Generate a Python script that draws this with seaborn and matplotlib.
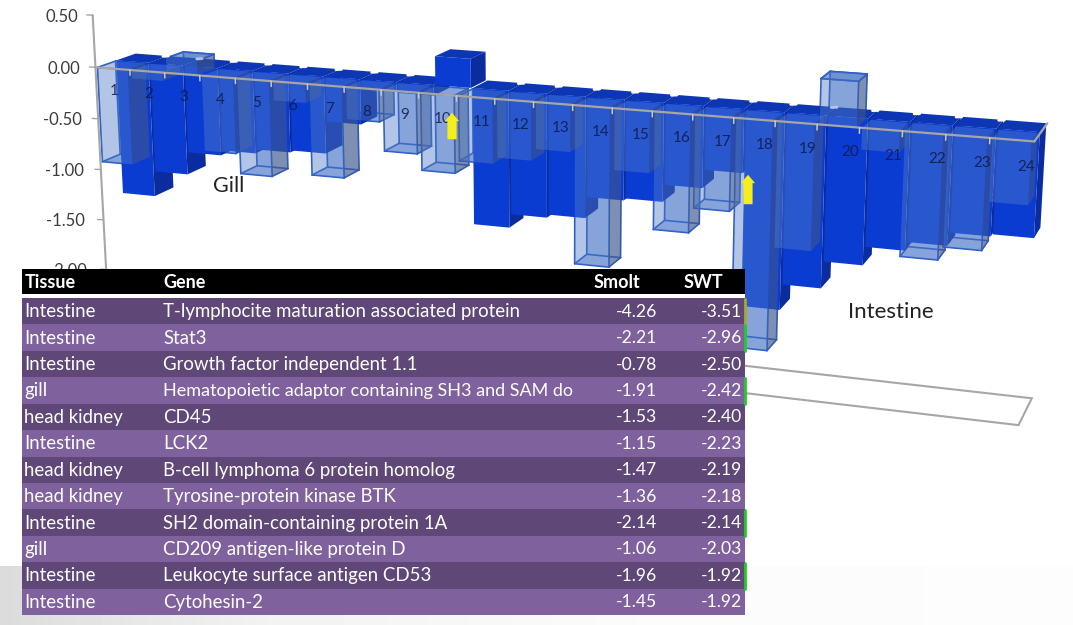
"""
Pseudo-3D bar chart (gill / intestine) with the gene table laid over it
"""

import numpy as np
import matplotlib
matplotlib.use('Agg')
import matplotlib.pyplot as plt
from matplotlib.colors import ListedColormap, to_rgba
from matplotlib.patches import Polygon, Rectangle
from matplotlib.transforms import Transform
import seaborn as sns

WIDTH, HEIGHT = 1073, 625

categories = list(range(1, 25))
front_values = [-0.92, -0.08, 0.14, -0.72, -0.91, -0.18, -0.86, -0.30, -0.57, -0.72, -0.60, -0.54,
                -0.43, -1.46, -0.56, -1.07, -0.84, -2.08, -1.13, 0.40, -0.19, -1.10, -0.98, -0.55]
rear_values = [-1.32, -1.07, -0.85, -0.80, -0.76, -0.74, -0.43, -0.08, -0.10, 0.27, -1.29, -1.16,
               -1.13, -0.93, -0.91, -0.75, -0.58, -1.81, -1.57, -1.32, -1.15, -1.07, -0.95, -0.93]
y_ticks = [0.5, 0.0, -0.5, -1.0, -1.5, -2.0]

tissues = ['Intestine', 'Intestine', 'Intestine', 'gill', 'head kidney', 'Intestine',
           'head kidney', 'head kidney', 'Intestine', 'gill', 'Intestine', 'Intestine']
genes = ['T-lymphocite maturation associated protein', 'Stat3', 'Growth factor independent 1.1',
         'Hematopoietic adaptor containing SH3 and SAM do', 'CD45', 'LCK2',
         'B-cell lymphoma 6 protein homolog', 'Tyrosine-protein kinase BTK',
         'SH2 domain-containing protein 1A', 'CD209 antigen-like protein D',
         'Leukocyte surface antigen CD53', 'Cytohesin-2']
smolt = ['-4.26', '-2.21', '-0.78', '-1.91', '-1.53', '-1.15', '-1.47', '-1.36', '-2.14', '-1.06', '-1.96', '-1.45']
swt = ['-3.51', '-2.96', '-2.50', '-2.42', '-2.40', '-2.23', '-2.19', '-2.18', '-2.14', '-2.03', '-1.92', '-1.92']
edge_marks = ['#a8a82a', '#22cc22', None, '#22cc22', None, None, None, None, '#22cc22', None, '#22cc22', None]

# camera: chart coordinates (category, value, depth) seen at these pixels
world_anchors = np.array([(0, 0, 0), (6, 0, 0), (12, 0, 0), (18, 0, 0), (24, 0, 0), (24, 0, 1), (24, -2.5, 0),
                          (24, -2.5, 1), (0, 0.5, 0), (0, -2, 0), (0, -2.5, 0), (0, 0, 1)], dtype=float)
pixel_anchors = np.array([(97, 68), (301, 84), (540, 102), (777, 121), (1032, 140), (1047, 122), (1018, 427),
                          (1032, 399), (92, 16), (106, 270), (109, 316), (135, 54)], dtype=float)


def fit_camera(world, pixels):
    """Direct linear transform, least squares through the anchors"""
    rows = []
    for (x, y, z), (u, v) in zip(world, pixels / 1000):
        rows.append([x, y, z, 1, 0, 0, 0, 0, -u * x, -u * y, -u * z, -u])
        rows.append([0, 0, 0, 0, x, y, z, 1, -v * x, -v * y, -v * z, -v])
    return np.linalg.svd(np.array(rows))[2][-1].reshape(3, 4)


CAMERA = fit_camera(world_anchors, pixel_anchors)


def project(x, v, d):
    pts = np.stack([np.asarray(x, float), np.asarray(v, float), np.asarray(d, float), np.ones_like(np.asarray(x, float))], axis=-1)
    out = pts @ CAMERA.T
    return out[..., :2] / out[..., 2:] * 1000


class DepthProjection(Transform):
    """Maps (category, value) at a fixed depth to pixels"""
    input_dims = output_dims = 2

    def __init__(self, plane):
        super().__init__()
        self.plane = plane

    def transform_non_affine(self, values):
        values = np.asarray(values, float)
        return project(values[:, 0], values[:, 1], np.full(len(values), self.plane))


sns.set_theme(style='white')
plt.rcParams['font.family'] = ['Lato', 'DejaVu Sans']

fig = plt.figure(figsize=(WIDTH / 100, HEIGHT / 100), dpi=100)
ax = fig.add_axes([0, 0, 1, 1])
ax.set_axis_off()

GRAY = '#a6a6a6'
CENTERS = np.array(categories) - 0.5
FRONT_D = (0.0, 0.45)
REAR_D = (0.5, 1.0)
SOLID, SOLID_SIDE, SOLID_TOP = '#0a3cd2', '#0a2c9e', '#0d36b4'
GLASS, GLASS_EDGE = to_rgba('#507bca', 0.44), '#2a5cc4'
GLASS_SIDE = to_rgba('#4a5a80', 0.5)


def quad(x0, v0, d0, x1, v1, d1, x2, v2, d2, x3, v3, d3):
    return project([x0, x1, x2, x3], [v0, v1, v2, v3], [d0, d1, d2, d3])


def draw_row(values, depth, solid, base_z, bar_w):
    d0, d1 = depth
    sns.barplot(x=CENTERS, y=values, ax=ax, native_scale=True, width=bar_w, saturation=1,
                color=SOLID if solid else GLASS[:3], alpha=1 if solid else GLASS[3],
                edgecolor='none', linewidth=0)
    bars = ax.containers[-1]
    for i, bar in enumerate(bars):
        bar.set_transform(DepthProjection(d0) + ax.transData)
        bar.set_zorder(base_z + i + 0.5)
        x = CENTERS[i]
        l, r = x - bar_w / 2, x + bar_w / 2
        v = values[i]
        cap = max(v, 0)
        side = quad(r, 0, d0, r, v, d0, r, v, d1, r, 0, d1)
        top = quad(l, cap, d0, r, cap, d0, r, cap, d1, l, cap, d1)
        if solid:
            ax.add_patch(Polygon(side, fc=SOLID_SIDE, ec='none', zorder=base_z + i))
            ax.add_patch(Polygon(top, fc=SOLID_TOP, ec='none', zorder=base_z + i + 0.6))
            continue
        # the far walls and the wire frame stay behind the solid row
        back = quad(l, 0, d1, r, 0, d1, r, v, d1, l, v, d1)
        bottom = quad(l, v, d0, r, v, d0, r, v, d1, l, v, d1)
        ax.add_patch(Polygon(back, fc=GLASS, ec='none', zorder=5))
        ax.add_patch(Polygon(bottom, fc=GLASS, ec='none', zorder=5.1))
        ax.add_patch(Polygon(side, fc=GLASS_SIDE, ec='none', zorder=base_z + i + 0.1))
        ax.add_patch(Polygon(top, fc=GLASS, ec='none', zorder=base_z + i + 0.6))
        for a, b in [((l, v, d0), (r, v, d0)), ((r, v, d0), (r, v, d1)), ((r, v, d1), (l, v, d1)), ((l, v, d1), (l, v, d0)),
                     ((l, 0, d0), (l, v, d0)), ((r, 0, d0), (r, v, d0)), ((l, 0, d1), (l, v, d1)), ((r, 0, d1), (r, v, d1)),
                     ((l, cap, d0), (r, cap, d0)), ((r, cap, d0), (r, cap, d1)), ((r, cap, d1), (l, cap, d1)), ((l, cap, d1), (l, cap, d0))]:
            seg = project([a[0], b[0]], [a[1], b[1]], [a[2], b[2]])
            ax.plot(seg[:, 0], seg[:, 1], color=GLASS_EDGE, lw=1.2, zorder=6)


# floor under the bars
floor = quad(0, -2.5, 0, 24, -2.5, 0, 24, -2.5, 1, 0, -2.5, 1)
ax.add_patch(Polygon(floor, fc='white', ec=GRAY, lw=1.5, zorder=1))

draw_row(rear_values, REAR_D, True, 10, 0.95)
draw_row(front_values, FRONT_D, False, 40, 0.88)

# value axis, category axis, ticks
axis_ends = project([0, 0], [y_ticks[0], y_ticks[-1]], [0, 0])
ax.plot(axis_ends[:, 0], axis_ends[:, 1], color=GRAY, lw=1.5, zorder=70)
for tick in y_ticks:
    px, py = project(0, tick, 0)
    ax.plot([px - 6, px], [py - 0.3, py], color=GRAY, lw=1, zorder=70)
    ax.text(80 + 0.035 * (py - 68), py + 1.5, f'{tick:.2f}', ha='right', va='center', fontsize=12, color='#3c3c3c', zorder=70)

base = project([0, 24], [0, 0], [0, 0])
ax.plot(base[:, 0], base[:, 1], color=GRAY, lw=1.6, zorder=70)
edge = quad(24, 0, 0, 24, 0, 1, 24, 0, 1, 24, 0, 0)
ax.plot(edge[:2, 0], edge[:2, 1], color=GRAY, lw=1.6, zorder=70)
for x in range(1, 24):
    tick = project([x, x], [0, -0.05], [0, 0])
    ax.plot(tick[:, 0], tick[:, 1], color='#c4c8d0', lw=1.1, zorder=70)
    if rear_values[x - 1] <= 0 and rear_values[x] <= 0:
        mark = project([x, x - 0.12], [0, 0], [1.0, 0.96])
        ax.plot(mark[:, 0], mark[:, 1], color='white', lw=2, zorder=35)

for cat, x in zip(categories, CENTERS):
    px, py = project(x + 0.36 * (cat - 1) / 23, -0.22, 0)
    ax.text(px, py, str(cat), ha='center', va='center', fontsize=11, color='#0d1a4a', alpha=0.85, zorder=75)

ax.text(229, 186, 'Gill', ha='center', va='center', fontsize=15.5, color='#222222', zorder=75)
ax.text(891, 312, 'Intestine', ha='center', va='center', fontsize=16, color='#222222', zorder=75)

# yellow arrows
for cx, tip, tail in [(452, 110, 142), (748, 172, 207)]:
    ax.annotate('', xy=(cx, tip), xytext=(cx, tail), zorder=76,
                arrowprops=dict(arrowstyle='simple,head_width=0.85,head_length=0.5,tail_width=0.55', color='#f5ee1e', lw=0))

# pale band along the bottom of the slide
shade = np.interp(np.linspace(0, 1, 256), [0, 0.05, 0.25, 0.6, 1], [0.86, 0.88, 0.95, 0.985, 0.99])
ax.imshow(shade[None, :], cmap='gray', vmin=0, vmax=1, aspect='auto', extent=(0, WIDTH, 625, 566), zorder=0)
ax.set_xlim(0, WIDTH)
ax.set_ylim(HEIGHT, 0)

# table: rows as a two colour heatmap
TABLE_LEFT, TABLE_RIGHT, ROW_TOP, ROW_BOTTOM = 22, 745, 298, 615
tab = fig.add_axes([TABLE_LEFT / WIDTH, 1 - ROW_BOTTOM / HEIGHT, (TABLE_RIGHT - TABLE_LEFT) / WIDTH, (ROW_BOTTOM - ROW_TOP) / HEIGHT])
bands = np.arange(len(tissues)).reshape(-1, 1) % 2
sns.heatmap(bands, ax=tab, cmap=ListedColormap(['#5f4778', '#7f619e']), cbar=False, xticklabels=False, yticklabels=False)

over = fig.add_axes([0, 0, 1, 1])
over.patch.set_alpha(0)
over.set_axis_off()
over.set_xlim(0, WIDTH)
over.set_ylim(HEIGHT, 0)
over.add_patch(Rectangle((TABLE_LEFT, 269), TABLE_RIGHT - TABLE_LEFT, 25, fc='black', ec='none'))
over.add_patch(Rectangle((TABLE_LEFT, 294), TABLE_RIGHT - TABLE_LEFT, 4, fc='white', ec='none'))
for label, x in [('Tissue', 25), ('Gene', 163), ('Smolt', 594), ('SWT', 684)]:
    over.text(x, 282, label, ha='left', va='center', fontsize=13, fontweight='bold', color='white')
row_h = (ROW_BOTTOM - ROW_TOP) / len(tissues)
for i, (tissue, gene, s1, s2, mark) in enumerate(zip(tissues, genes, smolt, swt, edge_marks)):
    y = ROW_TOP + row_h * (i + 0.5) + 0.5
    gene_size = 13.0 if gene.endswith(' do') else 13.4
    over.text(24, y, tissue, ha='left', va='center', fontsize=13.4, color='white')
    over.text(163, y, gene, ha='left', va='center', fontsize=gene_size, color='white')
    over.text(657, y, s1, ha='right', va='center', fontsize=12.6, color='white')
    over.text(742, y, s2, ha='right', va='center', fontsize=12.6, color='white')
    if mark:
        over.plot([744.5, 744.5], [y - row_h / 2, y + row_h / 2], color=mark, lw=2)

fig.savefig('out.png', dpi=100)
